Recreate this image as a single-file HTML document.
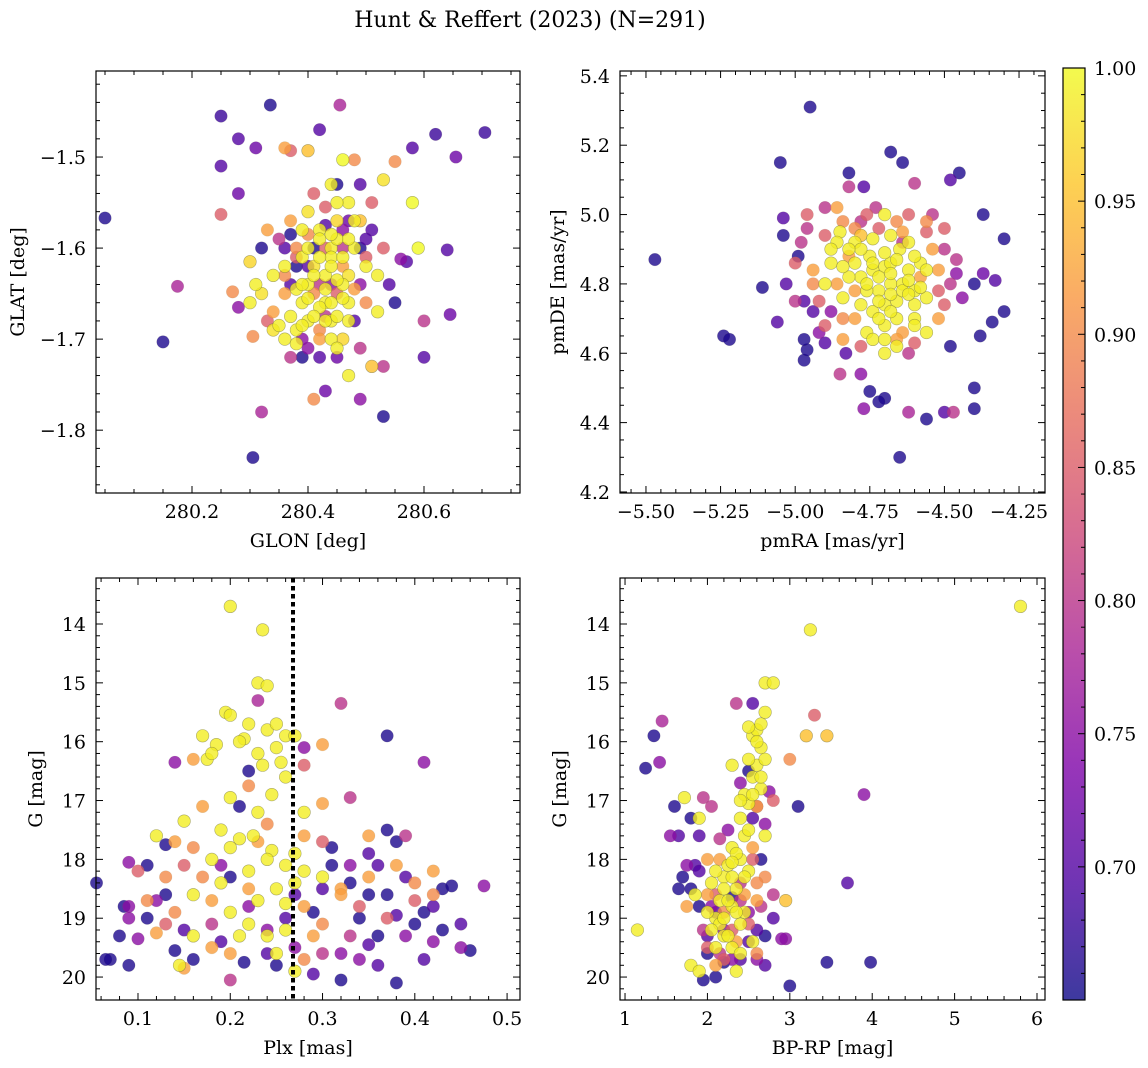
<!DOCTYPE html>
<html><head><meta charset="utf-8"><style>
html,body{margin:0;padding:0;background:#fff}
svg{display:block;font-family:"DejaVu Serif","Liberation Serif",serif}
</style></head><body>
<svg id="fig" width="1148" height="1068" viewBox="0 0 1148 1068" xmlns="http://www.w3.org/2000/svg">
<defs>
<linearGradient id="plasma" x1="0" y1="1" x2="0" y2="0">
<stop offset="0" stop-color="#0d0887"/><stop offset="0.125" stop-color="#4c02a1"/><stop offset="0.25" stop-color="#7e03a8"/><stop offset="0.375" stop-color="#a92395"/><stop offset="0.5" stop-color="#cc4778"/><stop offset="0.625" stop-color="#e66c5c"/><stop offset="0.75" stop-color="#f89540"/><stop offset="0.875" stop-color="#fdc527"/><stop offset="1" stop-color="#f0f921"/>
</linearGradient>
</defs>
<text x="530" y="27" font-size="22" text-anchor="middle">Hunt &amp; Reffert (2023) (N=291)</text>
</svg>
<script>
// ---- data: [x, y, membership probability] ----
const glonGlat = [
[280.05,-1.567,0.66],[280.25,-1.455,0.68],[280.25,-1.51,0.7],[280.28,-1.48,0.7],[280.31,-1.49,0.72],[280.335,-1.443,0.66],[280.42,-1.47,0.7],[280.455,-1.443,0.78],[280.58,-1.49,0.7],[280.62,-1.475,0.68],[280.655,-1.5,0.72],[280.705,-1.473,0.68],[280.28,-1.54,0.72],[280.25,-1.563,0.85],[280.175,-1.642,0.78],[280.15,-1.703,0.66],[280.305,-1.83,0.66],[280.32,-1.78,0.78],[280.53,-1.785,0.66],[280.49,-1.766,0.75],[280.43,-1.757,0.72],[280.41,-1.766,0.9],[280.6,-1.72,0.7],[280.64,-1.602,0.7],[280.645,-1.673,0.72],[280.6,-1.68,0.8],[280.56,-1.612,0.75],[280.57,-1.615,0.7],[280.53,-1.73,0.8],[280.51,-1.73,0.95],[280.27,-1.648,0.9],[280.28,-1.665,0.75],[280.305,-1.697,0.9],[280.32,-1.65,0.98],[280.3,-1.615,0.97],[280.36,-1.49,0.92],[280.37,-1.493,0.85],[280.4,-1.493,0.95],[280.48,-1.503,0.9],[280.46,-1.503,1.0],[280.53,-1.525,0.98],[280.55,-1.505,0.9],[280.58,-1.55,1.0],[280.59,-1.6,1.0],[280.49,-1.53,0.7],[280.45,-1.53,0.66],
[280.40,-1.56,0.98],[280.42,-1.58,0.99],[280.45,-1.57,0.97],[280.47,-1.55,0.99],[280.49,-1.57,0.95],[280.44,-1.60,0.99],[280.41,-1.62,0.98],[280.43,-1.63,0.99],[280.46,-1.62,0.92],[280.48,-1.60,0.99],[280.50,-1.62,0.99],[280.38,-1.60,0.9],[280.36,-1.62,0.99],[280.35,-1.59,0.8],[280.37,-1.64,0.7],[280.39,-1.66,0.99],[280.41,-1.65,0.9],[280.43,-1.66,0.99],[280.45,-1.65,0.85],[280.47,-1.66,0.99],[280.49,-1.64,0.75],[280.52,-1.63,0.99],[280.53,-1.6,0.85],[280.51,-1.58,0.7],[280.40,-1.68,0.99],[280.42,-1.69,0.9],[280.44,-1.68,0.99],[280.46,-1.70,0.97],[280.38,-1.69,0.99],[280.36,-1.70,0.99],[280.34,-1.69,0.98],[280.33,-1.68,0.85],[280.40,-1.71,0.75],[280.42,-1.72,0.7],[280.45,-1.72,0.72],[280.47,-1.74,0.99],[280.49,-1.71,0.8],[280.39,-1.72,0.66],[280.38,-1.62,0.66],[280.44,-1.53,0.99],[280.46,-1.58,0.75],[280.43,-1.60,0.85],[280.39,-1.58,0.99],[280.41,-1.54,0.85],[280.37,-1.57,0.92],[280.33,-1.58,0.92],[280.32,-1.6,0.66],[280.34,-1.63,0.99],[280.36,-1.65,0.92],[280.31,-1.64,0.99],[280.3,-1.66,0.99],[280.46,-1.64,0.99],[280.48,-1.68,0.7],[280.5,-1.66,0.9],[280.52,-1.67,0.99],[280.54,-1.64,0.7],[280.55,-1.66,0.66],[280.51,-1.55,0.85],[280.5,-1.59,0.7],[280.44,-1.61,0.99],[280.42,-1.64,0.8],[280.4,-1.64,0.99],[280.38,-1.645,0.99],[280.45,-1.59,0.99],[280.47,-1.63,0.98],[280.41,-1.60,0.66],[280.39,-1.61,0.99],[280.43,-1.575,0.7],[280.49,-1.6,0.66],[280.36,-1.6,0.7],[280.34,-1.67,0.92],[280.44,-1.7,0.99],[280.37,-1.72,0.8],
[280.40,-1.60,0.99],[280.42,-1.61,0.99],[280.44,-1.62,0.99],[280.46,-1.61,0.99],[280.41,-1.63,0.99],[280.43,-1.645,0.99],[280.45,-1.635,0.99],[280.39,-1.64,0.99],[280.40,-1.655,0.99],[280.42,-1.665,0.99],[280.44,-1.66,0.99],[280.46,-1.655,0.99],[280.41,-1.675,0.99],[280.43,-1.68,0.99],[280.45,-1.675,0.99],[280.39,-1.685,0.99],[280.37,-1.675,0.99],[280.42,-1.59,0.99],[280.44,-1.585,0.99],[280.47,-1.59,0.99],[280.48,-1.57,0.99],[280.45,-1.55,0.99],[280.43,-1.555,0.85],[280.40,-1.585,0.9],[280.38,-1.61,0.85],[280.42,-1.70,0.92],[280.38,-1.705,0.99],[280.35,-1.685,0.99],[280.47,-1.68,0.99],[280.44,-1.64,0.75],[280.40,-1.62,0.7],[280.46,-1.60,0.8],[280.36,-1.63,0.9],[280.48,-1.645,0.92],[280.50,-1.61,0.85],[280.37,-1.585,0.66],[280.47,-1.57,0.72],[280.43,-1.675,0.8],[280.39,-1.70,0.75],[280.45,-1.71,0.99]
];
const pmraPmde = [
[-5.47,4.87,0.66],[-5.24,4.65,0.66],[-5.22,4.64,0.66],[-5.11,4.79,0.66],[-4.95,5.31,0.66],[-5.05,5.15,0.66],[-5.04,4.99,0.7],[-5.04,4.94,0.66],[-4.82,5.12,0.66],[-4.77,5.08,0.7],[-4.68,5.18,0.66],[-4.64,5.15,0.66],[-4.6,5.09,0.8],[-4.48,5.1,0.7],[-4.45,5.12,0.66],[-4.37,5.0,0.66],[-4.3,4.93,0.66],[-4.3,4.72,0.66],[-4.34,4.69,0.66],[-4.38,4.65,0.66],[-4.4,4.5,0.66],[-4.4,4.44,0.66],[-4.48,4.62,0.66],[-4.56,4.41,0.66],[-4.5,4.43,0.7],[-4.47,4.43,0.8],[-4.62,4.43,0.78],[-4.65,4.3,0.66],[-4.7,4.47,0.66],[-4.72,4.46,0.66],[-4.75,4.49,0.66],[-4.77,4.44,0.75],[-4.78,4.54,0.75],[-4.83,4.6,0.7],[-4.9,4.63,0.7],[-4.97,4.58,0.66],[-4.96,4.61,0.66],[-4.97,4.64,0.66],[-5.06,4.69,0.7],[-5.03,4.8,0.7],[-4.97,4.75,0.7],[-4.99,4.88,0.66],[-4.4,4.8,0.66],[-4.33,4.81,0.7],[-4.37,4.83,0.72],
[-4.7,4.85,0.99],[-4.75,4.88,0.99],[-4.65,4.9,0.99],[-4.68,4.8,0.99],[-4.72,4.78,0.99],[-4.78,4.82,0.99],[-4.62,4.84,0.99],[-4.6,4.78,0.99],[-4.66,4.75,0.99],[-4.74,4.72,0.99],[-4.8,4.92,0.99],[-4.85,4.95,0.99],[-4.82,4.88,0.92],[-4.88,4.86,0.99],[-4.9,4.8,0.99],[-4.84,4.76,0.99],[-4.8,4.7,0.92],[-4.76,4.66,0.99],[-4.7,4.68,0.99],[-4.64,4.66,0.92],[-4.6,4.7,0.99],[-4.56,4.76,0.99],[-4.58,4.86,0.99],[-4.62,4.92,0.99],[-4.66,4.98,0.9],[-4.72,4.96,0.85],[-4.78,4.98,0.8],[-4.86,5.02,0.92],[-4.9,5.02,0.8],[-4.96,5.0,0.85],[-4.98,4.92,0.8],[-5.0,4.86,0.85],[-4.94,4.84,0.92],[-4.92,4.75,0.85],[-5.0,4.75,0.8],[-4.88,4.72,0.75],[-4.9,4.68,0.85],[-4.84,4.64,0.92],[-4.78,4.62,0.85],[-4.7,4.6,0.99],[-4.66,4.62,0.99],[-4.62,4.6,0.8],[-4.56,4.66,0.99],[-4.52,4.7,0.92],[-4.5,4.74,0.85],[-4.48,4.8,0.8],[-4.46,4.83,0.75],[-4.52,4.84,0.92],[-4.54,4.9,0.92],[-4.56,4.95,0.85],[-4.62,5.0,0.85],[-4.7,5.0,0.99],[-4.74,4.93,0.99],[-4.68,4.86,0.99],[-4.64,4.8,0.99],[-4.6,4.74,0.99],[-4.7,4.74,0.99],[-4.76,4.78,0.99],[-4.82,4.82,0.99],[-4.86,4.8,0.92],[-4.8,4.86,0.99],[-4.74,4.84,0.99],[-4.66,4.7,0.99],[-4.58,4.82,0.92],[-4.85,4.54,0.8],[-4.9,4.94,0.85],[-4.46,4.87,0.8],[-4.5,4.96,0.85],[-4.54,5.0,0.8],[-4.82,5.08,0.8],[-4.73,5.02,0.8],[-4.64,4.92,0.8],[-4.94,4.72,0.7],[-4.84,4.98,0.9],[-4.78,4.94,0.95],
[-4.72,4.82,0.99],[-4.68,4.83,0.99],[-4.66,4.87,0.99],[-4.7,4.89,0.99],[-4.74,4.86,0.99],[-4.76,4.8,0.99],[-4.72,4.75,0.99],[-4.68,4.77,0.99],[-4.64,4.78,0.99],[-4.62,4.81,0.99],[-4.6,4.88,0.99],[-4.78,4.9,0.99],[-4.82,4.9,0.99],[-4.84,4.85,0.99],[-4.86,4.92,0.99],[-4.8,4.78,0.92],[-4.78,4.74,0.99],[-4.72,4.7,0.99],[-4.68,4.72,0.99],[-4.62,4.77,0.99],[-4.58,4.79,0.99],[-4.56,4.84,0.99],[-4.6,4.68,0.99],[-4.74,4.64,0.99],[-4.7,4.64,0.99],[-4.66,4.64,0.92],[-4.8,4.96,0.9],[-4.68,4.94,0.99],[-4.64,4.95,0.92],[-4.76,5.0,0.85],[-4.94,4.8,0.9],[-4.88,4.9,0.99],[-4.84,4.7,0.9],[-4.6,4.63,0.85],[-4.52,4.78,0.85],[-4.5,4.9,0.8],[-4.96,4.96,0.8],[-4.92,4.66,0.75],[-4.56,4.98,0.9],[-4.44,4.76,0.75]
];
const plxG = [
[0.2,13.7,0.99],[0.235,14.1,0.99],[0.23,15.0,0.99],[0.24,15.05,0.99],[0.195,15.5,0.99],[0.2,15.55,0.99],[0.22,15.7,0.99],[0.24,15.8,0.99],[0.185,16.05,0.99],[0.17,15.9,0.99],[0.215,15.95,0.99],[0.26,15.9,0.99],[0.27,15.9,0.99],[0.25,16.1,0.99],[0.255,16.35,0.99],[0.235,16.4,0.99],[0.26,16.6,0.99],[0.175,16.3,0.99],[0.16,16.3,0.92],[0.3,16.05,0.92],[0.2,16.95,0.99],[0.245,16.9,0.99],[0.22,16.75,0.9],[0.17,17.1,0.92],[0.15,17.35,0.99],[0.14,17.7,0.92],[0.12,17.6,0.99],[0.16,17.8,0.9],[0.21,17.65,0.99],[0.225,17.6,0.99],[0.23,17.7,0.92],[0.245,17.85,0.99],[0.27,17.9,0.99],[0.28,17.6,0.92],[0.3,17.05,0.92],[0.26,18.1,0.99],[0.28,18.2,0.99],[0.3,18.3,0.99],[0.25,18.5,0.99],[0.22,18.5,0.92],[0.19,18.4,0.99],[0.18,18.7,0.92],[0.16,18.6,0.99],[0.14,18.9,0.9],[0.2,18.9,0.99],[0.22,19.1,0.99],[0.26,18.75,0.99],[0.28,18.8,0.92],[0.32,18.5,0.92],[0.34,18.8,0.85],[0.3,19.1,0.9],[0.24,19.3,0.99],[0.16,19.3,0.99],[0.145,19.8,0.99],[0.15,19.85,0.92],[0.27,19.9,0.99],[0.25,19.6,0.99],[0.12,19.25,0.92],[0.13,18.3,0.9],[0.1,18.2,0.85],[0.09,18.8,0.75],[0.11,18.7,0.9],[0.2,20.05,0.8],[0.38,18.1,0.92],[0.4,18.4,0.9],[0.42,18.2,0.92],[0.35,17.6,0.92],[0.32,18.6,0.92],[0.29,19.3,0.92],
[0.055,18.4,0.66],[0.07,19.7,0.66],[0.065,19.7,0.66],[0.08,19.3,0.66],[0.09,19.8,0.66],[0.085,18.8,0.66],[0.09,19.0,0.75],[0.09,18.05,0.75],[0.11,18.1,0.66],[0.13,17.75,0.66],[0.14,16.35,0.75],[0.13,18.6,0.66],[0.14,19.55,0.66],[0.16,19.7,0.66],[0.19,19.4,0.7],[0.2,18.3,0.66],[0.21,17.1,0.66],[0.22,16.5,0.66],[0.23,15.3,0.78],[0.215,19.75,0.66],[0.24,19.2,0.75],[0.25,19.8,0.66],[0.27,19.5,0.75],[0.28,16.1,0.75],[0.29,18.9,0.66],[0.3,19.6,0.8],[0.32,15.35,0.8],[0.31,17.8,0.66],[0.31,18.1,0.66],[0.33,18.4,0.66],[0.32,20.05,0.66],[0.34,19.7,0.75],[0.34,19.0,0.66],[0.35,18.6,0.66],[0.33,16.95,0.8],[0.36,18.1,0.7],[0.36,19.3,0.66],[0.37,15.9,0.66],[0.37,17.5,0.66],[0.38,18.95,0.7],[0.38,20.1,0.66],[0.39,19.3,0.75],[0.4,19.1,0.66],[0.41,18.9,0.66],[0.41,16.35,0.75],[0.42,19.4,0.75],[0.43,18.5,0.66],[0.44,18.45,0.66],[0.45,19.1,0.7],[0.45,19.5,0.75],[0.46,19.55,0.66],[0.475,18.45,0.75],[0.38,17.7,0.66],[0.39,17.6,0.8],[0.37,18.6,0.66],[0.35,19.45,0.7],[0.33,19.3,0.8],[0.3,18.5,0.7],[0.26,19.0,0.7],[0.22,18.8,0.75],[0.18,19.1,0.8],[0.12,18.7,0.75],[0.1,19.35,0.75],[0.42,18.8,0.7],[0.4,18.7,0.85],
[0.18,16.2,0.99],[0.21,16.0,0.99],[0.23,16.2,0.99],[0.25,15.7,0.99],[0.23,17.2,0.99],[0.19,17.5,0.99],[0.2,17.8,0.99],[0.18,18.0,0.99],[0.22,18.2,0.99],[0.24,18.0,0.99],[0.27,18.4,0.99],[0.23,18.7,0.99],[0.21,19.3,0.99],[0.26,19.2,0.99],[0.18,19.5,0.92],[0.28,17.2,0.99],[0.17,18.3,0.9],[0.15,18.1,0.85],[0.3,17.7,0.85],[0.35,18.3,0.92],[0.28,19.7,0.9],[0.13,19.1,0.85],[0.24,17.4,0.9],[0.2,19.6,0.92],[0.32,19.6,0.75],[0.36,19.8,0.7],[0.27,18.6,0.7],[0.19,18.1,0.75],[0.15,19.2,0.7],[0.11,19.0,0.66],[0.41,19.7,0.7],[0.43,19.2,0.66],[0.39,18.3,0.7],[0.29,19.95,0.7],[0.24,19.6,0.7],[0.35,17.9,0.7],[0.42,18.6,0.9],[0.37,19.0,0.85],[0.33,18.1,0.75],[0.28,16.4,0.85]
];
const bprpG = [
[5.8,13.7,0.99],[3.25,14.1,0.99],[1.15,19.2,0.99],[1.25,16.45,0.66],[1.35,15.9,0.66],[1.42,16.35,0.75],[1.45,15.65,0.78],[1.6,17.1,0.66],[1.72,16.95,0.99],[1.65,17.6,0.7],[1.55,17.6,0.75],[1.8,17.3,0.66],[1.85,18.1,0.7],[3.45,15.9,0.95],[3.3,15.55,0.85],[3.2,15.9,0.95],[3.9,16.9,0.75],[3.7,18.4,0.7],[3.45,19.75,0.66],[3.98,19.75,0.66],[3.0,20.15,0.66],[3.1,17.1,0.66],[2.95,18.7,0.95],[2.95,19.35,0.75],[3.0,16.3,0.9],
[2.3,19.5,0.99],[2.2,19.3,0.99],[2.1,19.0,0.99],[2.0,18.9,0.99],[2.15,18.7,0.99],[2.3,18.8,0.99],[2.4,19.1,0.99],[2.05,18.4,0.99],[2.2,18.3,0.99],[2.35,18.5,0.99],[2.25,18.1,0.99],[2.4,18.0,0.99],[2.5,18.2,0.99],[2.3,17.8,0.99],[2.45,17.6,0.99],[2.55,17.8,0.92],[2.4,17.3,0.99],[2.5,17.05,0.99],[2.6,17.1,0.92],[2.45,16.9,0.99],[2.55,16.6,0.99],[2.6,16.4,0.99],[2.5,16.3,0.99],[2.65,16.1,0.99],[2.55,15.9,0.99],[2.6,15.8,0.99],[2.5,15.75,0.99],[2.7,15.5,0.99],[2.7,15.0,0.99],[2.8,15.0,0.99],[2.3,16.4,0.99],[1.9,17.3,0.99],[1.85,18.6,0.99],[1.8,19.8,0.99],[1.9,19.9,0.99],[2.1,19.8,0.92],[2.6,19.6,0.9],[2.0,18.0,0.92],[1.75,18.8,0.92],[2.2,19.7,0.85],[2.35,19.9,0.99],[2.6,18.7,0.92],[2.7,18.3,0.9],[2.8,17.0,0.85],[2.7,17.6,0.99],[2.65,16.8,0.99],[2.2,18.9,0.9],[2.45,18.9,0.99],[2.1,18.6,0.85],[2.0,19.5,0.85],[2.3,19.2,0.85],[2.55,19.4,0.99],
[2.0,19.6,0.66],[2.1,20.0,0.66],[1.95,20.05,0.66],[2.2,19.75,0.66],[2.4,19.7,0.7],[2.5,19.4,0.7],[2.6,19.7,0.75],[2.7,19.8,0.7],[2.8,19.0,0.7],[2.5,18.9,0.75],[2.4,18.4,0.8],[2.65,18.0,0.66],[2.7,17.4,0.75],[2.6,17.1,0.8],[2.75,16.85,0.75],[2.5,16.5,0.66],[2.35,15.35,0.8],[2.55,15.35,0.7],[1.8,18.5,0.66],[1.7,18.3,0.66],[1.75,18.1,0.75],[1.9,18.2,0.7],[2.05,18.8,0.75],[2.3,18.65,0.66],[1.65,18.5,0.66],[1.95,19.2,0.8],[2.05,17.1,0.8],[1.95,16.95,0.8],[2.15,17.65,0.8],[1.9,17.6,0.7],[2.8,18.6,0.8],[2.9,19.35,0.75],[2.2,19.2,0.75],
[2.2,18.5,0.99],[2.25,18.7,0.99],[2.35,18.9,0.99],[2.15,19.1,0.99],[2.25,19.3,0.99],[2.3,18.3,0.99],[2.35,17.9,0.99],[2.3,18.05,0.99],[2.45,18.3,0.99],[2.5,17.5,0.99],[2.4,17.0,0.99],[2.55,16.9,0.99],[2.6,16.0,0.99],[2.65,15.7,0.99],[2.7,16.3,0.99],[2.65,16.6,0.99],[2.1,18.2,0.99],[2.15,18.0,0.92],[2.0,18.6,0.92],[2.05,19.2,0.99],[2.35,19.4,0.92],[2.4,19.6,0.99],[2.2,19.0,0.99],[2.1,19.5,0.99],[2.45,18.6,0.92],[2.6,18.4,0.9],[2.55,18.0,0.85],[2.5,19.1,0.85],[2.15,19.6,0.8],[2.4,18.7,0.8],[2.3,19.7,0.75],[2.6,19.2,0.7],[2.0,19.3,0.7],[1.9,18.8,0.66],[2.25,17.5,0.75],[2.55,17.3,0.7],[2.4,16.7,0.75],[2.1,18.9,0.7],[2.7,19.3,0.66],[2.65,18.8,0.8]
];
const cbarTicks = [0.70,0.75,0.80,0.85,0.90,0.95,1.00];
const plxCut = 0.268;

const NS = "http://www.w3.org/2000/svg";
const svg = document.getElementById('fig');
function mk(tag, attrs, parent){ const e=document.createElementNS(NS,tag); for(const k in attrs) e.setAttribute(k,attrs[k]); (parent||svg).appendChild(e); return e; }
const stops=[[0,[13,8,135]],[0.125,[76,2,161]],[0.25,[126,3,168]],[0.375,[169,35,149]],[0.5,[204,71,120]],[0.625,[230,108,92]],[0.75,[248,149,64]],[0.875,[253,197,39]],[1,[240,249,33]]];
const VMIN=0.65, VMAX=1.0;
function cmap(v){ let t=Math.max(0,Math.min(1,(v-VMIN)/(VMAX-VMIN)));
  for(let i=1;i<stops.length;i++){ if(t<=stops[i][0]){ const a=stops[i-1],b=stops[i],f=(t-a[0])/(b[0]-a[0]);
    return 'rgb('+a[1].map((c,j)=>Math.round(c+(b[1][j]-c)*f)).join(',')+')'; } } return 'rgb(240,249,33)'; }
function fmt(v,d){ return (v<0?'\u2212':'')+Math.abs(v).toFixed(d); }
const FS=19;

function panel(o){
  const g=mk('g',{});
  
  
  const sx=v=>o.x0+(v-o.xmin)/(o.xmax-o.xmin)*(o.x1-o.x0);
  const sy=v=>o.inv? o.y0+(v-o.ymin)/(o.ymax-o.ymin)*(o.y1-o.y0) : o.y1-(v-o.ymin)/(o.ymax-o.ymin)*(o.y1-o.y0);
  const pts=mk('g',{},g);
  
  
  const sorted=o.data.slice().sort((a,b)=>a[2]-b[2]);
  sorted.forEach(d=>{
    const c=mk('circle',{cx:sx(d[0]).toFixed(1),cy:sy(d[1]).toFixed(1),r:6.3,fill:cmap(d[2]),'fill-opacity':0.8,stroke:'#6b6b3a','stroke-opacity':d[2]>0.93?0.55:0.15,'stroke-width':0.6},pts);
    
    
  });
  if(o.vline!==undefined){
    const l=mk('line',{x1:sx(o.vline),x2:sx(o.vline),y1:o.y0,y2:o.y1,stroke:'#000','stroke-width':4,'stroke-dasharray':'4.5,3.5'},g);
    
    
  }
  const fr=mk('rect',{x:o.x0,y:o.y0,width:o.x1-o.x0,height:o.y1-o.y0,fill:'none',stroke:'#000','stroke-width':1.2},g);
  
  
  const tk=mk('g',{stroke:'#000','stroke-width':1},g);
  const eps=1e-9;
  for(let v=Math.ceil(o.xmin/o.xminor-eps)*o.xminor; v<=o.xmax; v+=o.xminor){
    const maj=Math.abs(v/o.xmajor-Math.round(v/o.xmajor))<1e-6, L=maj?7:4, x=sx(v);
    mk('line',{x1:x,x2:x,y1:o.y1,y2:o.y1-L},tk); mk('line',{x1:x,x2:x,y1:o.y0,y2:o.y0+L},tk);
    if(maj){ const t=mk('text',{x:x,y:o.y1+25,'font-size':FS,'text-anchor':'middle',stroke:'none'},g); t.textContent=fmt(v,o.xd);
        }
  }
  for(let v=Math.ceil(o.ymin/o.yminor-eps)*o.yminor; v<=o.ymax; v+=o.yminor){
    const maj=Math.abs(v/o.ymajor-Math.round(v/o.ymajor))<1e-6, L=maj?7:4, y=sy(v);
    mk('line',{x1:o.x0,x2:o.x0+L,y1:y,y2:y},tk); mk('line',{x1:o.x1,x2:o.x1-L,y1:y,y2:y},tk);
    if(maj){ const t=mk('text',{x:o.x0-10,y:y+7,'font-size':FS,'text-anchor':'end',stroke:'none'},g); t.textContent=fmt(v,o.yd);
        }
  }
  const xl=mk('text',{x:(o.x0+o.x1)/2,y:o.y1+54,'font-size':FS,'text-anchor':'middle'},g); xl.textContent=o.xlabel;
   
  const yc=(o.y0+o.y1)/2;
  const yl=mk('text',{x:o.ylx,y:yc,'font-size':FS,'text-anchor':'middle',transform:'rotate(-90 '+o.ylx+' '+yc+')'},g); yl.textContent=o.ylabel;
   
}

panel({name:'glon-glat-panel',data:glonGlat,x0:96,x1:520,y0:71,y1:493,xmin:280.0345,xmax:280.7655,ymin:-1.869,ymax:-1.4055,xmajor:0.2,xminor:0.05,ymajor:0.1,yminor:0.02,xd:1,yd:1,xlabel:'GLON [deg]',ylabel:'GLAT [deg]',ylx:24});
panel({name:'pm-panel',data:pmraPmde,x0:620,x1:1045,y0:71,y1:493,xmin:-5.587,xmax:-4.163,ymin:4.197,ymax:5.414,xmajor:0.25,xminor:0.05,ymajor:0.2,yminor:0.05,xd:2,yd:1,xlabel:'pmRA [mas/yr]',ylabel:'pmDE [mas/yr]',ylx:564});
panel({name:'plx-g-panel',data:plxG,x0:96,x1:520,y0:578,y1:1000,xmin:0.0545,xmax:0.514,ymin:13.218,ymax:20.39,inv:true,xmajor:0.1,xminor:0.02,ymajor:1,yminor:0.2,xd:1,yd:0,xlabel:'Plx [mas]',ylabel:'G [mag]',ylx:42,vline:plxCut});
panel({name:'cmd-panel',data:bprpG,x0:620,x1:1045,y0:578,y1:1000,xmin:0.939,xmax:6.097,ymin:13.218,ymax:20.39,inv:true,xmajor:1,xminor:0.2,ymajor:1,yminor:0.2,xd:0,yd:0,xlabel:'BP-RP [mag]',ylabel:'G [mag]',ylx:566});

// colorbar
const cb=mk('g',{});


const cx0=1063,cx1=1085,cy0=68,cy1=1000;
const cy=v=>cy1-(v-VMIN)/(VMAX-VMIN)*(cy1-cy0);
mk('rect',{x:cx0,y:cy0,width:cx1-cx0,height:cy1-cy0,fill:'url(#plasma)','fill-opacity':0.8},cb);
mk('rect',{x:cx0,y:cy0,width:cx1-cx0,height:cy1-cy0,fill:'none',stroke:'#000','stroke-width':1.2},cb);
for(let k=66;k<=100;k++){ const v=k/100, y=cy(v), maj=k%5===0;
  mk('line',{x1:cx1,x2:cx1-(maj?7:4),y1:y,y2:y,stroke:'#000','stroke-width':1},cb); }
cbarTicks.forEach(v=>{ const t=mk('text',{x:1094,y:cy(v)+7,'font-size':FS},cb); t.textContent=v.toFixed(2);
    });
</script>
</body></html>
